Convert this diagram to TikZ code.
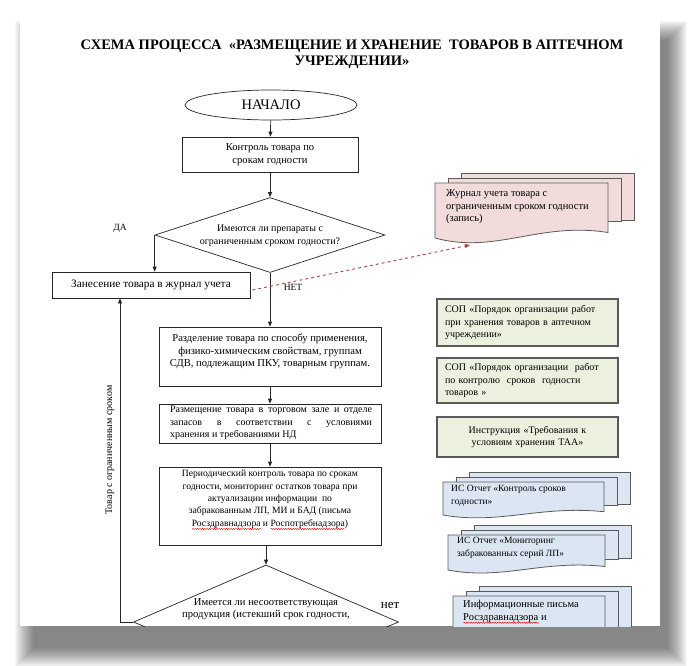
\documentclass[tikz,border=0pt]{standalone}
\usepackage{fontspec}
\setmainfont{Liberation Serif}
\usetikzlibrary{shapes.geometric,arrows.meta,calc,decorations.pathmorphing}
\newcommand\redwave[1]{\setbox0\hbox{#1}\rlap{\tikz[baseline=0pt,x=1pt,y=1pt]\draw[red,line width=0.45pt,decorate,decoration={snake,amplitude=0.6pt,segment length=2.4pt}] (0,-2.6) -- (\the\wd0,-2.6);}#1}
\definecolor{pinkf}{HTML}{F2DCDB}
\definecolor{bluef}{HTML}{DCE6F2}
\definecolor{greenf}{HTML}{EBF1DE}
\definecolor{docline}{HTML}{5A5A5A}
\definecolor{dashred}{HTML}{B04545}
\newcommand\mdoc[5]{%
  \filldraw[fill=#5, draw=docline, line width=0.8pt] (#1+26,#2-10) rectangle (#1+26+#3,#2+0.68*#4);
  \filldraw[fill=#5, draw=docline, line width=0.8pt] (#1+13,#2-5) rectangle (#1+13+#3,#2+0.7*#4);
  \filldraw[fill=#5, draw=docline, line width=0.8pt] (#1,#2) -- (#1+#3,#2) -- (#1+#3,#2+0.9*#4)
     .. controls (#1+0.6*#3,#2+0.7*#4) and (#1+0.35*#3,#2+1.3*#4) .. (#1,#2+#4) -- cycle;
}
\newcommand\fs[1]{\fontsize{#1}{12.6}\selectfont}
\begin{document}
\begin{tikzpicture}[x=1pt,y=-1pt,
  every node/.style={font=\fs{10}},
  box/.style={draw=black!85, line width=0.7pt, rectangle, inner sep=0pt},
  dia/.style={draw=black!85, line width=0.7pt, diamond, inner sep=0pt},
  arr/.style={draw=black!85, line width=0.7pt, -{Triangle[length=5pt,width=4pt]}},
  txt/.style={align=center, inner sep=0pt},
  dtxt/.style={align=left, inner sep=0pt, anchor=west},
  gbox/.style={draw=black!65, line width=1.1pt, fill=greenf, inner ysep=0pt, inner xsep=8pt, text width=165pt},
  lbl/.style={inner sep=0pt, font=\fontsize{9.5}{11}\selectfont}]
\useasboundingbox (0,0) rectangle (700,665);
% shadow
\foreach \i in {0,...,19} {
  \fill[black, opacity=0.03] (34-\i,40-\i) rectangle (668+\i,648+\i);
}
\fill[white] (20,17) rectangle (660,626);
\begin{scope}
\clip (20,17) rectangle (660,626);
% title
\node[txt, font=\bfseries\fontsize{14.5}{16}\selectfont] (title) at (352,54)
  {СХЕМА ПРОЦЕССА\ \ «РАЗМЕЩЕНИЕ И ХРАНЕНИЕ\ \ ТОВАРОВ В АПТЕЧНОМ\\УЧРЕЖДЕНИИ»};
% flow
\node[box, ellipse, minimum width=172pt, minimum height=30pt, font=\fontsize{14.5}{16}\selectfont] (start) at (271,105) {НАЧАЛО};
\node[box, align=center, minimum width=176pt, minimum height=35pt, font=\fs{10.6}] (k1) at (270,154.5) {Контроль товара по\\срокам годности};
\node[dia, minimum width=230pt, minimum height=75pt] (d1) at (270,235) {};
\node[txt] (d1t) at (270,236) {Имеются ли препараты с\\ограниченным сроком годности?};
\node[box, minimum width=198pt, minimum height=26pt, font=\fs{11.3}] (zan) at (151,285) {Занесение товара в журнал учета};
\node[box, minimum width=222pt, minimum height=59pt] (r1) at (270,356.5) {};
\node[txt, font=\fs{10.6}] (r1t) at (270,351.5) {Разделение товара по способу применения,\\физико-химическим свойствам, группам\\СДВ, подлежащим ПКУ, товарным группам.};
\node[box, minimum width=222pt, minimum height=39pt] (r2) at (270,423.5) {};
\node[inner sep=0pt, text width=202pt, align=justify] (r2t) at (271,423) {Размещение товара в торговом зале и отделе\linebreak запасов в соответствии с условиями\linebreak хранения и требованиями НД};
\node[box, minimum width=222pt, minimum height=78pt] (r3) at (270,506) {};
\node[txt, font=\fontsize{9.6}{12.4}\selectfont] (r3t) at (270,500) {Периодический контроль товара по срокам\\годности, мониторинг остатков товара при\\актуализации информации\ \ по\\забракованным ЛП, МИ и БАД (письма\\\redwave{Росздравнадзора} и \redwave{Роспотребнадзора})};
\node[dia, minimum width=265pt, minimum height=114pt] (d2) at (266,622) {};
\node[txt, font=\fs{10.6}] (d2t) at (266,609) {Имеется ли несоответствующая\\продукция (истекший срок годности,};
% labels
\node[lbl] (da) at (120,228) {ДА};
\node[lbl] (net1) at (293,287) {НЕТ};
\node[inner sep=0pt, font=\fontsize{13}{14}\selectfont] (net2) at (390,605) {нет};
\node[inner sep=0pt, rotate=90] (loopl) at (110,450) {Товар с ограниченным сроком};
% connectors
\draw[arr] (start) -- (k1);
\draw[arr] (k1) -- (d1);
\draw[arr] (d1.west) -- (d1.west |- zan.north);
\draw[arr] (d1.south) -- (r1.north);
\draw[arr] (r1) -- (r2);
\draw[arr] (r2) -- (r3);
\draw[arr] (r3.south -| d2.north) -- (d2.north);
\coordinate (lp) at (120,622);
\draw[arr] (d2.west) -- (lp) -- (lp |- zan.south);
% right side documents
\mdoc{435}{183}{173}{55}{pinkf}
\node[dtxt, font=\fs{10.5}] (jr) at (446,207) {Журнал учета товара с\\ограниченным сроком годности\\(запись)};
\coordinate (jrb) at (470,245);
\draw[dashred, dashed, line width=0.9pt, -{Triangle[length=5pt,width=4pt]}] ($(zan.east)+(2,5)$) -- (jrb);
\node[gbox, minimum height=47pt] (g1) at (527.5,322.5) {СОП «Порядок организации работ\\при хранения товаров в аптечном\\учреждении»};
\node[gbox, minimum height=45pt] (g2) at (527.5,380.5) {СОП «Порядок организации\ \ работ\\по контролю\ \ сроков\ \ годности\\товаров »};
\node[gbox, minimum height=40pt, align=center] (g3) at (527.5,437) {Инструкция «Требования к\\условиям хранения ТАА»};
\mdoc{443}{482}{161}{33}{bluef}
\node[dtxt, font=\fs{9.5}] (is1) at (451,496) {ИС Отчет «Контроль сроков\\годности»};
\mdoc{448}{535}{157}{35}{bluef}
\node[dtxt, font=\fs{9.5}] (is2) at (457,548) {ИС Отчет «Мониторинг\\забракованных серий ЛП»};
\mdoc{453}{596}{152}{50}{bluef}
\node[dtxt, anchor=north west, font=\fs{10.5}] (let) at (463,600) {Информационные письма\\\redwave{Росздравнадзора} и};
\end{scope}
\end{tikzpicture}
\end{document}
